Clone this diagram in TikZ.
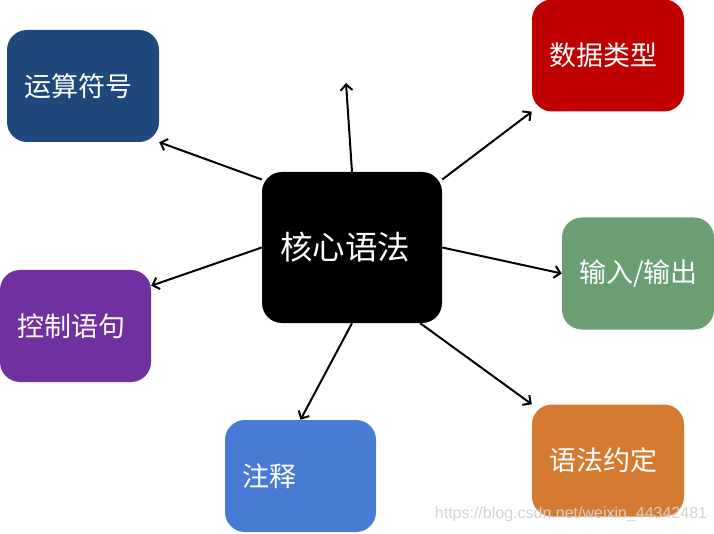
\documentclass[tikz,border=0pt]{standalone}
\usepackage{fontspec}
\newfontfamily\cjk{Noto Sans CJK SC}
\newfontfamily\wmfont{Liberation Sans}
\usetikzlibrary{arrows.meta}

\tikzset{
  topic/.style={rounded corners=20pt, text=white, align=left,
    inner xsep=17pt, text width=118pt, minimum height=112pt,
    font=\cjk\fontsize{27}{29}\selectfont},
  link/.style={line width=2pt, -{Straight Barb[length=6pt,width=12pt]}}
}

\begin{document}
\begin{tikzpicture}[x=1pt,y=-1pt]
  \useasboundingbox (0,0) rectangle (714,534);
  % centre
  \node[topic,fill=black,inner xsep=18pt,text width=144pt,minimum height=151pt,
        font=\cjk\fontsize{32.5}{34}\selectfont](core)at(352,247.5){核心语法};
  % topics
  \node[topic,fill={rgb,255:red,31;green,73;blue,125}](ysf)at(83,86){运算符号};
  \node[topic,fill={rgb,255:red,192;green,0;blue,0}](sjlx)at(608,55.5){数据类型};
  \node[topic,fill={rgb,255:red,107;green,158;blue,115}](srsc)at(638,273.5){输入/输出};
  \node[topic,fill={rgb,255:red,112;green,48;blue,160},text width=117pt](kzyj)at(75.5,326){控制语句};
  \node[topic,fill={rgb,255:red,74;green,123;blue,212},text width=117pt](zs)at(300.5,476){注释};
  \node[topic,fill={rgb,255:red,213;green,123;blue,49}](yfyd)at(608,460.5){语法约定};
  \coordinate(up)at(346,83);
  % arrows
  \draw[link](core.143)--(ysf.south east);
  \draw[link](core.north)--(up);
  \draw[link](core.37)--(sjlx.south west);
  \draw[link](core.east)--(srsc.west);
  \draw[link](core.west)--(kzyj.28);
  \draw[link](core.south)--(zs.north);
  \draw[link](core.-48)--(yfyd.north west);
  \node[font=\wmfont\fontsize{16}{16}\selectfont,text=gray!35,inner sep=0pt](wm)
       at(571,514){https://blog.csdn.net/weixin\_44342481};
\end{tikzpicture}
\end{document}
